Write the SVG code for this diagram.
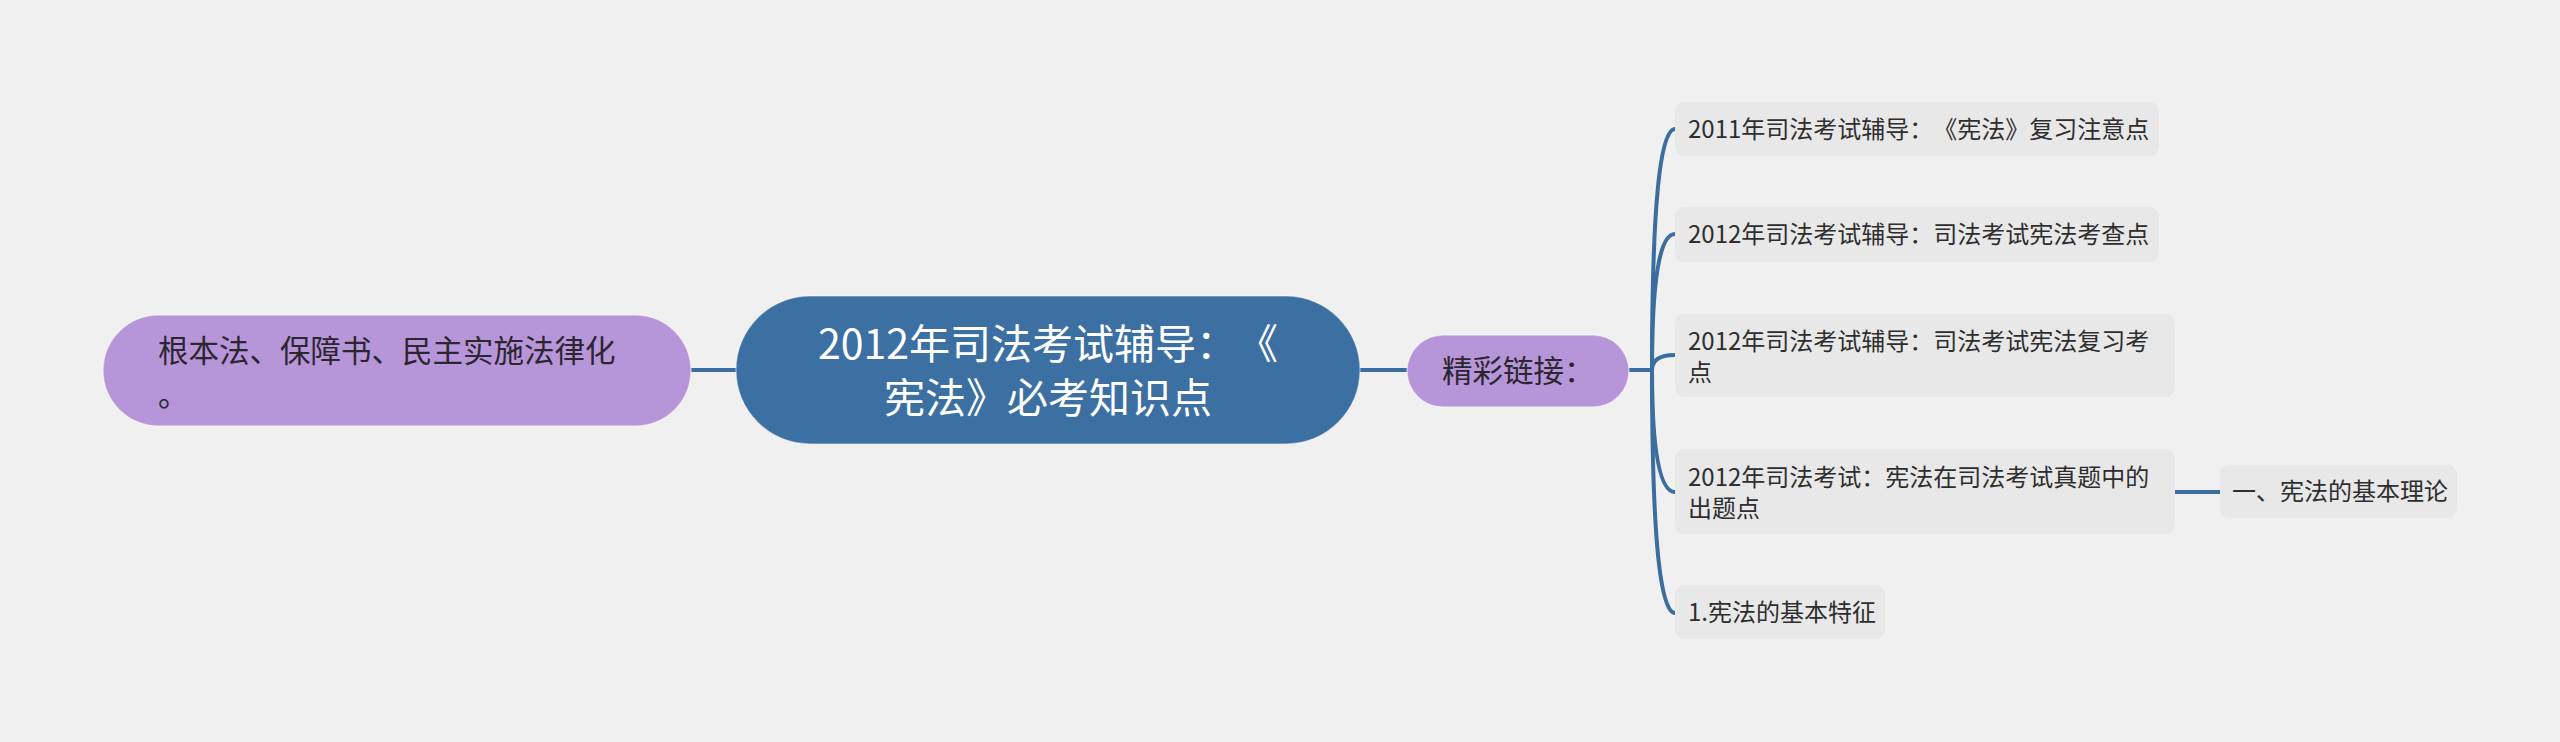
<svg xmlns="http://www.w3.org/2000/svg" width="2560" height="742" viewBox="0 0 2560 742">
<style>
.bg{fill:#f0f0f0}
.conn{fill:none;stroke:#3b6d9e;stroke-width:4;stroke-linecap:round}
.purple{fill:#b795d9;stroke:#ffffff;stroke-opacity:0.5;stroke-width:1.5}
.root{fill:#3c70a2;stroke:#ffffff;stroke-opacity:0.4;stroke-width:1.5}
.sub{fill:#e8e8e8}
.t{font-family:"Noto Sans CJK SC","Noto Sans",sans-serif;text-spacing-trim:space-all;font-kerning:none}
.tp{font-size:30.5px;fill:#2b2630}
.tr{font-size:41px;fill:#ffffff}
.ts{font-size:24px;fill:#2e2e2e}
</style>
<rect class="bg" x="0" y="0" width="2560" height="742"/>
<g id="connectors">
<path class="conn" d="M691 370 H736"/>
<path class="conn" d="M1360 370 H1407"/>
<path class="conn" d="M1629 370 H1652"/>
<path class="conn" d="M1652 370 Q1652 129 1675 129"/>
<path class="conn" d="M1652 370 Q1652 234 1675 234"/>
<path class="conn" d="M1652 370 Q1652 355 1675 355"/>
<path class="conn" d="M1652 370 Q1652 492 1675 492"/>
<path class="conn" d="M1652 370 Q1652 613 1675 613"/>
<path class="conn" d="M2175 492 H2220"/>
</g>
<g id="node-left">
<rect class="purple" x="103" y="315" width="588" height="111" rx="55.5"/>
<text class="t tp"><tspan x="158" y="362">根本法、保障书、民主实施法律化</tspan><tspan x="158" y="406">。</tspan></text>
</g>
<g id="node-root">
<rect class="root" x="736" y="296" width="624" height="148" rx="74"/>
<text class="t tr" text-anchor="middle"><tspan x="1048" y="359">2012年司法考试辅导：《</tspan><tspan x="1048" y="413">宪法》必考知识点</tspan></text>
</g>
<g id="node-links">
<rect class="purple" x="1407" y="335" width="222" height="72" rx="36"/>
<text class="t tp" x="1442" y="382">精彩链接：</text>
</g>
<g id="node-1">
<rect class="sub" x="1675" y="102" width="484" height="54" rx="9"/>
<text class="t ts" x="1688" y="138">2011年司法考试辅导：《宪法》复习注意点</text>
</g>
<g id="node-2">
<rect class="sub" x="1675" y="207" width="484" height="55" rx="9"/>
<text class="t ts" x="1688" y="243">2012年司法考试辅导：司法考试宪法考查点</text>
</g>
<g id="node-3">
<rect class="sub" x="1675" y="314" width="500" height="83" rx="9"/>
<text class="t ts"><tspan x="1688" y="350">2012年司法考试辅导：司法考试宪法复习考</tspan><tspan x="1688" y="381">点</tspan></text>
</g>
<g id="node-4">
<rect class="sub" x="1675" y="449" width="500" height="85" rx="9"/>
<text class="t ts"><tspan x="1688" y="486">2012年司法考试：宪法在司法考试真题中的</tspan><tspan x="1688" y="517">出题点</tspan></text>
</g>
<g id="node-5">
<rect class="sub" x="1675" y="585" width="210" height="54" rx="9"/>
<text class="t ts" x="1688" y="621">1.宪法的基本特征</text>
</g>
<g id="node-6">
<rect class="sub" x="2220" y="465" width="237" height="53" rx="9"/>
<text class="t ts" x="2232" y="500">一、宪法的基本理论</text>
</g>
</svg>
